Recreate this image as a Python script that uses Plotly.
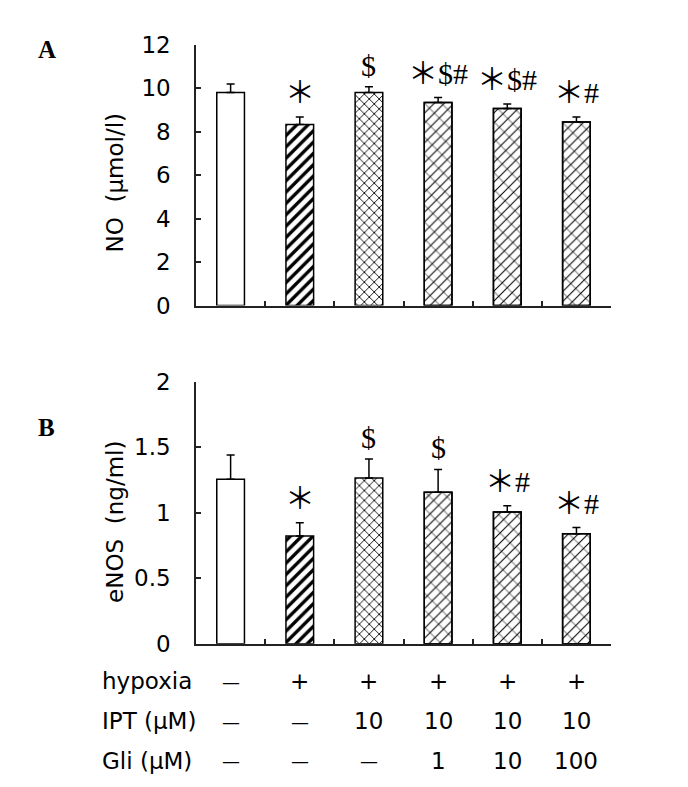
import plotly.graph_objects as go
from plotly.subplots import make_subplots

groups = ["G1", "G2", "G3", "G4", "G5", "G6"]
no_values = [9.79, 8.32, 9.79, 9.33, 9.06, 8.44]
no_err = [0.40, 0.35, 0.27, 0.23, 0.21, 0.23]
no_marks = ["", "*", "$", "*$#", "*$#", "*#"]
enos_values = [1.255, 0.823, 1.265, 1.155, 1.005, 0.840]
enos_err = [0.185, 0.100, 0.145, 0.175, 0.048, 0.046]
enos_marks = ["", "*", "$", "$", "*#", "*#"]
hypoxia_row = ["-", "+", "+", "+", "+", "+"]
ipt_row = ["-", "-", "10", "10", "10", "10"]
gli_row = ["-", "-", "-", "1", "10", "100"]
row_labels = ["hypoxia", "IPT (\u03bcM)", "Gli (\u03bcM)"]
y_titles = ["NO  (\u03bcmol/l)", "eNOS  (ng/ml)"]

SANS = "DejaVu Sans"
SERIF = "Liberation Serif, Times New Roman"
STAR = '<span style="font-family:Noto Sans CJK SC">\uff0a</span>'
DASH = '<span style="font-size:18px">\u2014</span>'

base_patterns = [
    dict(shape=""),
    dict(shape="/", size=8, solidity=0.42),
    dict(shape="x", size=7, solidity=0.24),
    dict(shape="/", size=7, solidity=0.15),
    dict(shape="/", size=7, solidity=0.15),
    dict(shape="/", size=7, solidity=0.15),
]
over_patterns = [None, None, None,
                 dict(shape="\\", size=12, solidity=0.09),
                 dict(shape="\\", size=12, solidity=0.09),
                 dict(shape="\\", size=12, solidity=0.09)]

fig = make_subplots(rows=2, cols=1)

for row, vals, errs in [(1, no_values, no_err), (2, enos_values, enos_err)]:
    for i, g in enumerate(groups):
        pat = dict(base_patterns[i], fgcolor="black", bgcolor="white", fillmode="replace")
        fig.add_trace(go.Bar(
            x=[g], y=[vals[i]], width=0.40,
            marker=dict(color="white", line=dict(color="black", width=1.5), pattern=pat),
            error_y=dict(type="data", symmetric=False, array=[errs[i]], arrayminus=[0],
                         color="black", thickness=1.5, width=4),
            showlegend=False, hoverinfo="skip",
        ), row=row, col=1)
        if over_patterns[i]:
            opat = dict(over_patterns[i], fgcolor="black", bgcolor="rgba(0,0,0,0)", fillmode="overlay")
            fig.add_trace(go.Bar(
                x=[g], y=[vals[i]], width=0.40,
                marker=dict(color="rgba(0,0,0,0)", line=dict(color="black", width=1.5), pattern=opat),
                showlegend=False, hoverinfo="skip",
            ), row=row, col=1)

axis_common = dict(showline=True, linecolor="#222", linewidth=1.5, mirror=False,
                   showgrid=False, zeroline=False)
fig.update_xaxes(**axis_common, ticks="inside", tickson="boundaries", ticklen=5,
                 tickcolor="#222", tickwidth=1.5, showticklabels=False)
fig.update_yaxes(**axis_common, ticks="inside", ticklen=5, tickcolor="#222", tickwidth=1.5,
                 ticklabelstandoff=19,
                 tickfont=dict(family=SANS, size=23, color="black"))

fig.update_layout(
    width=688, height=787,
    margin=dict(l=0, r=0, t=0, b=0),
    paper_bgcolor="white", plot_bgcolor="white",
    barmode="overlay",
    xaxis=dict(domain=[0.2733, 0.8765]),
    xaxis2=dict(domain=[0.2733, 0.8765]),
    yaxis=dict(domain=[0.6261, 0.9691], range=[0, 12], tickvals=[0, 2, 4, 6, 8, 10, 12]),
    yaxis2=dict(domain=[0.1817, 0.5261], range=[0, 2], tickvals=[0, 0.5, 1, 1.5, 2],
                ticktext=["0", "0.5", "1", "1.5", "2"]),
    font=dict(family=SANS, color="black"),
)

# y-axis titles
for title, ypix in zip(y_titles, [167, 518]):
    fig.add_annotation(x=107 / 688, y=1 - ypix / 787, xref="paper", yref="paper", text=title,
                       textangle=-90, showarrow=False, xanchor="center", yanchor="middle",
                       font=dict(family=SANS, size=23, color="black"))

# significance marks
for xa, ya, vals, errs, marks in [("x", "y", no_values, no_err, no_marks),
                                  ("x2", "y2", enos_values, enos_err, enos_marks)]:
    for i, g in enumerate(groups):
        if marks[i]:
            fig.add_annotation(x=g, y=vals[i] + errs[i], xref=xa, yref=ya,
                               text=marks[i].replace("*", STAR), showarrow=False,
                               yanchor="bottom", yshift=3,
                               font=dict(family=SERIF, size=30, color="black"))

# panel labels
for lab, ypix in [("A", 29), ("B", 420)]:
    fig.add_annotation(x=28 / 688, y=1 - ypix / 787, xref="paper", yref="paper", text="<b>" + lab + "</b>",
                       showarrow=False, xanchor="left", yanchor="middle",
                       font=dict(family=SERIF, size=25, color="black"))

# treatment table
row_y = [683, 724, 765]
for label, ypix, vals in zip(row_labels, row_y, [hypoxia_row, ipt_row, gli_row]):
    yp = 1 - ypix / 787
    fig.add_annotation(x=92 / 688, y=yp, xref="paper", yref="paper", text=label,
                       showarrow=False, xanchor="left", yanchor="middle",
                       font=dict(family=SANS, size=23, color="black"))
    for g, v in zip(groups, vals):
        fig.add_annotation(x=g, y=yp, xref="x2", yref="paper", text=DASH if v == "-" else v,
                           showarrow=False, xanchor="center", yanchor="middle",
                           font=dict(family=SANS, size=23, color="black"))

fig.write_html("out.html")
